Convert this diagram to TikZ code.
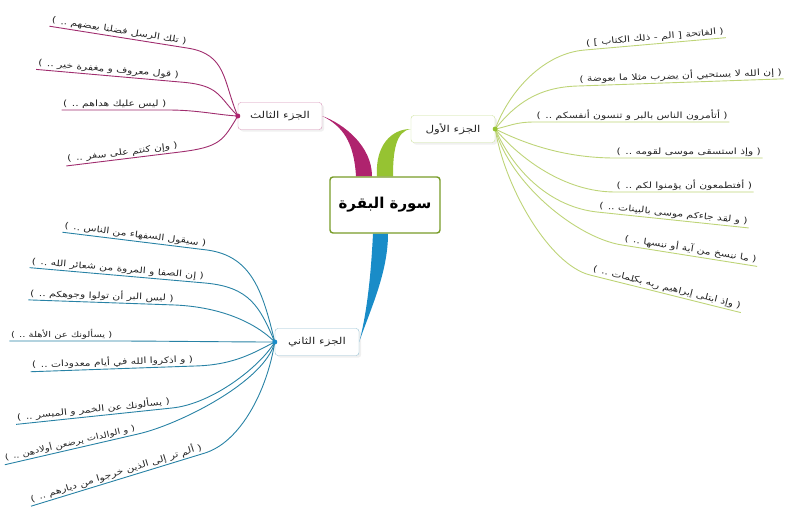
\documentclass[tikz,border=0pt]{standalone}
\usepackage{fontspec}
\newfontfamily\arabicfont[Script=Arabic]{DejaVu Sans}
\newfontfamily\leaffont[Script=Arabic, FakeStretch=1.25]{DejaVu Sans}
\TeXXeTstate=1
\usetikzlibrary{positioning,calc,shadows,backgrounds}

\definecolor{juzgreen}{RGB}{150,195,50}
\definecolor{leafgreen}{RGB}{190,212,120}
\definecolor{juzpink}{RGB}{175,35,110}
\definecolor{leafpink}{RGB}{160,45,110}
\definecolor{juzblue}{RGB}{25,140,200}
\definecolor{leafblue}{RGB}{40,130,165}

\newcommand{\rtl}[1]{\beginR #1\endR}

\begin{document}
\begin{tikzpicture}[x=1pt,y=-1pt,
    surabox/.style={draw=juzgreen!80!black, line width=1.4pt, rounded corners=3pt, fill=white,
        minimum width=110pt, minimum height=56pt, font=\arabicfont\fontsize{15}{17}\selectfont\bfseries},
    juzbox/.style={draw=#1, fill=white, rounded corners=3pt, minimum width=84pt, minimum height=27pt,
        font=\leaffont\fontsize{9.5}{11}\selectfont, text=black!85, drop shadow={opacity=0.12}},
    leaf/.style={font=\leaffont\fontsize{8.6}{10}\selectfont, inner sep=1.5pt, text=black!85},
    shortleaf/.style={leaf, font=\leaffont\fontsize{8}{9}\selectfont},
    lineG/.style={leafgreen, line width=0.9pt},
    lineP/.style={leafpink, line width=0.9pt},
    lineB/.style={leafblue, line width=0.9pt}]
    \useasboundingbox (0,0) rectangle (795,506);

    % Main topic and parts
    \node[surabox] (sura) at (385,205) {\rtl{سورة البقرة}};
    \node[juzbox=juzgreen!50] (juz1) at (453,129) {\rtl{الجزء الأول}};
    \node[juzbox=juzpink!50] (juz3) at (280,116) {\rtl{الجزء الثالث}};
    \node[juzbox=leafblue!50] (juz2) at (317,342) {\rtl{الجزء الثاني}};

    % Thick branches
    \begin{scope}[on background layer]
        \fill[juzpink] ($(sura.north)+(-29,0)$) .. controls +(-2,-35) and +(20,10) .. (juz3.east)
            .. controls +(22,8) and +(0,-30) .. ($(sura.north)+(-13,0)$) -- cycle;
        \fill[juzgreen] ($(sura.north)+(-8,0)$) .. controls +(-2,-30) and +(-20,0) .. (juz1.west)
            .. controls +(-15,2) and +(0,-25) .. ($(sura.north)+(8,0)$) -- cycle;
        \fill[juzblue] ($(sura.south)+(-12,0)$) .. controls +(-2,40) and +(8,-30) .. (juz2.east)
            .. controls +(10,-30) and +(0,40) .. ($(sura.south)+(3,0)$) -- cycle;
    \end{scope}

    % Part one (right)
    \node[leaf, anchor=south west, rotate=5] (a1) at (585,50) {\rtl{( الفاتحة [ الم - ذلك الكتاب ] )}};
    \node[leaf, anchor=south west, rotate=2] (a2) at (578,86) {\rtl{( إن الله لا يستحيي أن يضرب مثلا ما بعوضة )}};
    \node[leaf, anchor=south west] (a3) at (535,122) {\rtl{( أتأمرون الناس بالبر و تنسون أنفسكم .. )}};
    \node[leaf, anchor=south west] (a4) at (615,158) {\rtl{( وإذ استسقى موسى لقومه .. )}};
    \node[leaf, anchor=south west] (a5) at (615,192) {\rtl{( أفتطمعون أن يؤمنوا لكم .. )}};
    \node[leaf, anchor=south west, rotate=-6] (a6) at (597,212) {\rtl{( و لقد جاءكم موسى بالبينات .. )}};
    \node[leaf, anchor=south west, rotate=-9] (a7) at (622,245) {\rtl{( ما ننسخ من آية أو ننسها .. )}};
    \node[leaf, anchor=south west, rotate=-14] (a8) at (590,275) {\rtl{( وإذ ابتلى إبراهيم ربه بكلمات .. )}};

    \draw[lineG] (juz1.east) .. controls +(15,-40) and +(-40,3) .. (a1.south west) -- (a1.south east);
    \draw[lineG] (juz1.east) .. controls +(20,-25) and +(-40,1) .. (a2.south west) -- (a2.south east);
    \draw[lineG] (juz1.east) .. controls +(15,-3) and +(-20,0) .. (a3.south west) -- (a3.south east);
    \draw[lineG] (juz1.east) .. controls +(30,15) and +(-50,0) .. (a4.south west) -- (a4.south east);
    \draw[lineG] (juz1.east) .. controls +(25,30) and +(-50,0) .. (a5.south west) -- (a5.south east);
    \draw[lineG] (juz1.east) .. controls +(20,45) and +(-45,-5) .. (a6.south west) -- (a6.south east);
    \draw[lineG] (juz1.east) .. controls +(15,55) and +(-45,-7) .. (a7.south west) -- (a7.south east);
    \draw[lineG] (juz1.east) .. controls +(10,60) and +(-40,-10) .. (a8.south west) -- (a8.south east);
    \fill[juzgreen] (juz1.east) circle (2.5);

    % Part three (top left)
    \node[leaf, anchor=south east, rotate=-9] (c1) at (187,48) {\rtl{( تلك الرسل فضلنا بعضهم .. )}};
    \node[leaf, anchor=south east, rotate=-5] (c2) at (180,82) {\rtl{( قول معروف و مغفرة خير .. )}};
    \node[leaf, anchor=south east] (c3) at (168,110) {\rtl{( ليس عليك هداهم .. )}};
    \node[leaf, anchor=south east, rotate=7] (c4) at (180,152) {\rtl{( وإن كنتم على سفر .. )}};

    \draw[lineP] (juz3.west) .. controls +(-15,-35) and +(40,6) .. (c1.south east) -- (c1.south west);
    \draw[lineP] (juz3.west) .. controls +(-20,-20) and +(40,3) .. (c2.south east) -- (c2.south west);
    \draw[lineP] (juz3.west) .. controls +(-20,-1) and +(30,0) .. (c3.south east) -- (c3.south west);
    \draw[lineP] (juz3.west) .. controls +(-15,25) and +(40,-5) .. (c4.south east) -- (c4.south west);
    \fill[juzpink] (juz3.west) circle (2.5);

    % Part two (bottom left)
    \node[leaf, anchor=south east, rotate=-7] (b1) at (207,250) {\rtl{( سيقول السفهاء من الناس .. )}};
    \node[leaf, anchor=south east, rotate=-5] (b2) at (205,283) {\rtl{( إن الصفا و المروة من شعائر الله .. )}};
    \node[leaf, anchor=south east, rotate=-2] (b3) at (175,305) {\rtl{( ليس البر أن تولوا وجوهكم .. )}};
    \node[shortleaf, anchor=south east] (b4) at (114,341) {\rtl{( يسألونك عن الأهلة .. )}};
    \node[leaf, anchor=south east, rotate=2] (b5) at (195,366) {\rtl{( و اذكروا الله في أيام معدودات .. )}};
    \node[leaf, anchor=south east, rotate=6] (b6) at (172,408) {\rtl{( يسألونك عن الخمر و الميسر .. )}};
    \node[shortleaf, anchor=south east, rotate=13] (b7) at (138,434) {\rtl{( و الوالدات يرضعن أولادهن .. )}};
    \node[leaf, anchor=south east, rotate=17] (b8) at (205,453) {\rtl{( ألم تر إلى الذين خرجوا من ديارهم .. )}};

    \draw[lineB] (juz2.west) .. controls +(-12,-50) and +(45,6) .. (b1.south east) -- (b1.south west);
    \draw[lineB] (juz2.west) .. controls +(-15,-35) and +(45,4) .. (b2.south east) -- (b2.south west);
    \draw[lineB] (juz2.west) .. controls +(-20,-20) and +(45,2) .. (b3.south east) -- (b3.south west);
    \draw[lineB] (juz2.west) .. controls +(-40,0) and +(40,0) .. (b4.south east) -- (b4.south west);
    \draw[lineB] (juz2.west) .. controls +(-20,10) and +(40,-1) .. (b5.south east) -- (b5.south west);
    \draw[lineB] (juz2.west) .. controls +(-15,25) and +(40,-4) .. (b6.south east) -- (b6.south west);
    \draw[lineB] (juz2.west) .. controls +(-10,40) and +(40,-9) .. (b7.south east) -- (b7.south west);
    \draw[lineB] (juz2.west) .. controls +(-8,50) and +(35,-11) .. (b8.south east) -- (b8.south west);
    \fill[juzblue] (juz2.west) circle (2.5);
\end{tikzpicture}
\end{document}
